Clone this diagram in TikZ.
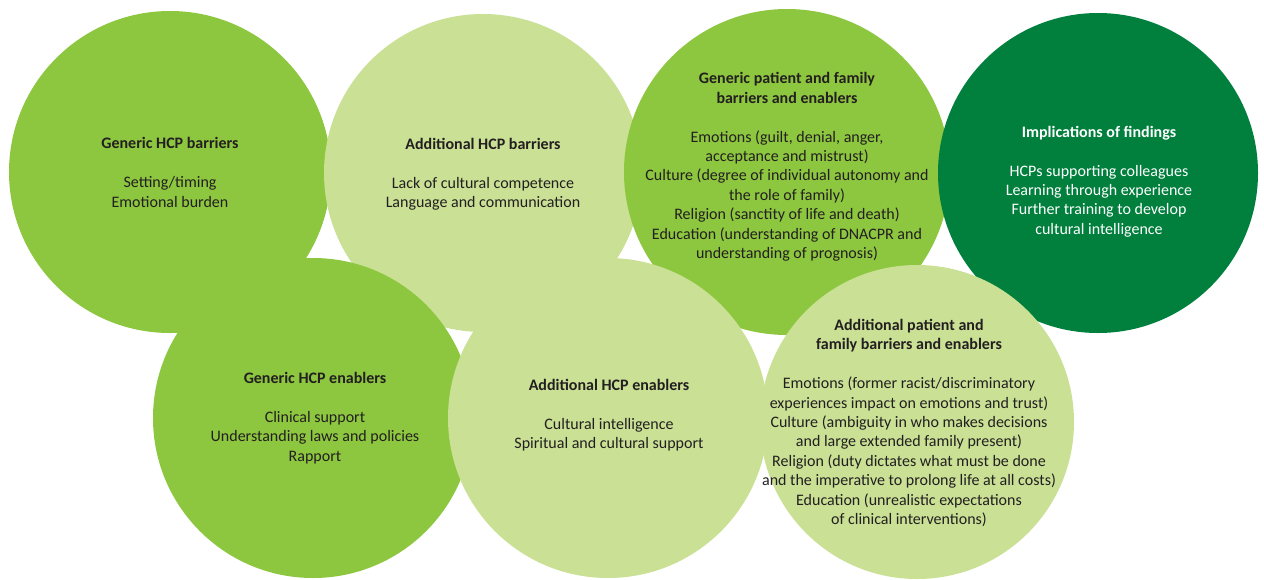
\documentclass[tikz,border=0pt]{standalone}
\usepackage{fontspec}
\setmainfont{Carlito}
\definecolor{midgreen}{HTML}{8DC63F}
\definecolor{lightgreen}{HTML}{C9E095}
\definecolor{darkgreen}{HTML}{007F3D}
\definecolor{txt}{HTML}{231F20}
\begin{document}
\begin{tikzpicture}[x=1pt,y=-1pt,
  disc/.style={circle,minimum size=#1,inner sep=0pt,draw=none},
  label/.style={align=center,text=txt,font=\fontsize{16}{19.4}\selectfont},
]
\useasboundingbox (0,0) rectangle (1264,579);
% top row
\node[disc=322pt,fill=midgreen] (c1) at (170,172) {};
\node[disc=318pt,fill=lightgreen] (c2) at (483,173) {};
\node[disc=326pt,fill=midgreen] (c3) at (787,172) {};
\node[disc=320pt,fill=darkgreen] (c4) at (1098,173) {};
% bottom row
\node[disc=320pt,fill=midgreen] (c5) at (313,418) {};
\node[disc=320pt,fill=lightgreen] (c6) at (608,418) {};
\node[disc=314pt,fill=lightgreen] (c7) at (917,422) {};
% texts
\node[label] (t1) at (170,172.5) {\textbf{Generic HCP barriers}\\[19.4pt]Setting/timing\\Emotional burden};
\node[label] (t2) at (483,174.5) {\textbf{Additional HCP barriers}\\[19.4pt]Lack of cultural competence\\Language and communication};
\node[label] (t3) at (787,167) {\textbf{Generic patient and family}\\\textbf{barriers and enablers}\\[19.4pt]Emotions (guilt, denial, anger,\\acceptance and mistrust)\\Culture (degree of individual autonomy and\\the role of family)\\Religion (sanctity of life and death)\\Education (understanding of DNACPR and\\understanding of prognosis)};
\node[label,text=white] (t4) at (1099,181.5) {\textbf{Implications of findings}\\[19.4pt]HCPs supporting colleagues\\Learning through experience\\Further training to develop\\cultural intelligence};
\node[label] (t5) at (315,418) {\textbf{Generic HCP enablers}\\[19.4pt]Clinical support\\Understanding laws and policies\\Rapport};
\node[label] (t6) at (609,415.5) {\textbf{Additional HCP enablers}\\[19.4pt]Cultural intelligence\\Spiritual and cultural support};
\node[label] (t7) at (909,423) {\textbf{Additional patient and}\\\textbf{family barriers and enablers}\\[19.4pt]Emotions (former racist/discriminatory\\experiences impact on emotions and trust)\\Culture (ambiguity in who makes decisions\\and large extended family present)\\Religion (duty dictates what must be done\\and the imperative to prolong life at all costs)\\Education (unrealistic expectations\\of clinical interventions)};
\end{tikzpicture}
\end{document}
